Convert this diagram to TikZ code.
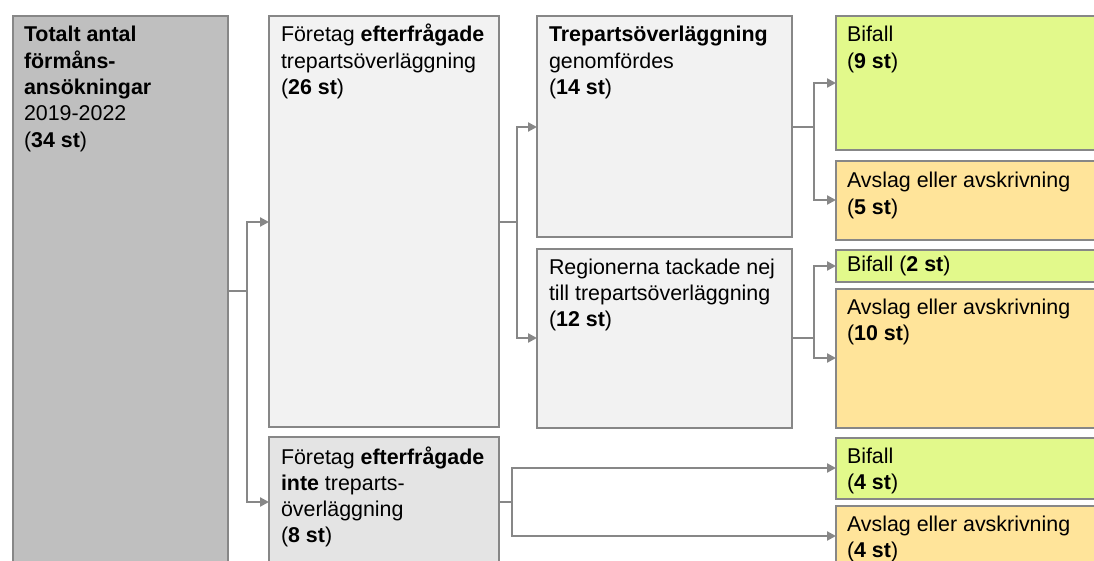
\documentclass[tikz,border=0pt]{standalone}
\usepackage{fontspec}
\setmainfont{Liberation Sans}
\usetikzlibrary{arrows.meta}
\definecolor{bordergray}{HTML}{878787}
\definecolor{linegray}{HTML}{878787}
\definecolor{totgray}{HTML}{BFBFBF}
\definecolor{lightgray}{HTML}{F2F2F2}
\definecolor{midgray}{HTML}{E4E4E4}
\definecolor{greenbox}{HTML}{E2F98B}
\definecolor{orangebox}{HTML}{FFE49A}
\tikzset{
  box/.style={draw=bordergray, line width=2.2pt, rectangle, anchor=north west, inner sep=0pt, outer sep=0pt},
  txt/.style={anchor=base west, inner sep=0pt, outer sep=0pt, align=left, font=\fontsize{21.4}{26.3}\selectfont, text=black},
  conn/.style={draw=linegray, line width=2.2pt},
  arr/.style={draw=linegray, line width=2.2pt, -{Triangle[length=9pt,width=9pt]}}
}
\begin{document}
\begin{tikzpicture}[x=1pt,y=-1pt]
\useasboundingbox (0,0) rectangle (1094,561);
\begin{scope}
\clip (0,0) rectangle (1094,561);
% boxes
\node[box, fill=totgray, minimum width=215pt, minimum height=580pt] (a) at (13,16) {};
\node[box, fill=lightgray, minimum width=230pt, minimum height=411pt] (b) at (269,16) {};
\node[box, fill=midgray, minimum width=230pt, minimum height=150pt] (c) at (269,437) {};
\node[box, fill=lightgray, minimum width=255pt, minimum height=221pt] (d) at (537,16) {};
\node[box, fill=lightgray, minimum width=255pt, minimum height=179pt] (e) at (537,249) {};
\node[box, fill=greenbox, minimum width=290pt, minimum height=134pt] (f) at (836,16) {};
\node[box, fill=orangebox, minimum width=290pt, minimum height=79pt] (g) at (836,161) {};
\node[box, fill=greenbox, minimum width=290pt, minimum height=32pt] (h) at (836,250) {};
\node[box, fill=orangebox, minimum width=290pt, minimum height=139pt] (i) at (836,289) {};
\node[box, fill=greenbox, minimum width=290pt, minimum height=61pt] (j) at (836,438) {};
\node[box, fill=orangebox, minimum width=290pt, minimum height=80pt] (k) at (836,506) {};
% texts (anchored at the baseline of the last line)
\node[txt] (ta) at (24,147.2) {\textbf{Totalt antal}\\\textbf{förmåns-}\\\textbf{ansökningar}\\2019-2022\\(\textbf{34 st})};
\node[txt] (tb) at (281,94.6) {Företag \textbf{efterfrågade}\\trepartsöverläggning\\(\textbf{26 st})};
\node[txt] (tc) at (281,542.9) {Företag \textbf{efterfrågade}\\\textbf{inte} treparts-\\överläggning\\(\textbf{8 st})};
\node[txt] (td) at (549,94.6) {\textbf{Trepartsöverläggning}\\genomfördes\\(\textbf{14 st})};
\node[txt] (te) at (549,326.6) {Regionerna tackade nej\\till trepartsöverläggning\\(\textbf{12 st})};
\node[txt] (tf) at (847,68.3) {Bifall\\(\textbf{9 st})};
\node[txt] (tg) at (847,214.3) {Avslag eller avskrivning\\(\textbf{5 st})};
\node[txt] (th) at (847,272) {Bifall (\textbf{2 st})};
\node[txt] (ti) at (847,340.3) {Avslag eller avskrivning\\(\textbf{10 st})};
\node[txt] (tj) at (847,489.3) {Bifall\\(\textbf{4 st})};
\node[txt] (tk) at (847,557.3) {Avslag eller avskrivning\\(\textbf{4 st})};
% connectors
\coordinate (ja) at (247,291);
\draw[conn] (a.east |- ja) -- (ja);
\draw[arr] (ja) |- (b.west |- 0,222);
\draw[arr] (ja) |- (c.west |- 0,502);
\coordinate (jb) at (517,222);
\draw[conn] (b.east |- jb) -- (jb);
\draw[arr] (jb) |- (d.west |- 0,127);
\draw[arr] (jb) |- (e.west |- 0,338);
\coordinate (jd) at (814,127);
\draw[conn] (d.east |- jd) -- (jd);
\draw[arr] (jd) |- (f.west |- 0,83);
\draw[arr] (jd) |- (g.west |- 0,200);
\coordinate (je) at (814,338);
\draw[conn] (e.east |- je) -- (je);
\draw[arr] (je) |- (h.west |- 0,266);
\draw[arr] (je) |- (i.west |- 0,358);
\coordinate (jc) at (512,502);
\draw[conn] (c.east |- jc) -- (jc);
\draw[arr] (jc) |- (j.west |- 0,468);
\draw[arr] (jc) |- (k.west |- 0,536);
\end{scope}
\end{tikzpicture}
\end{document}
